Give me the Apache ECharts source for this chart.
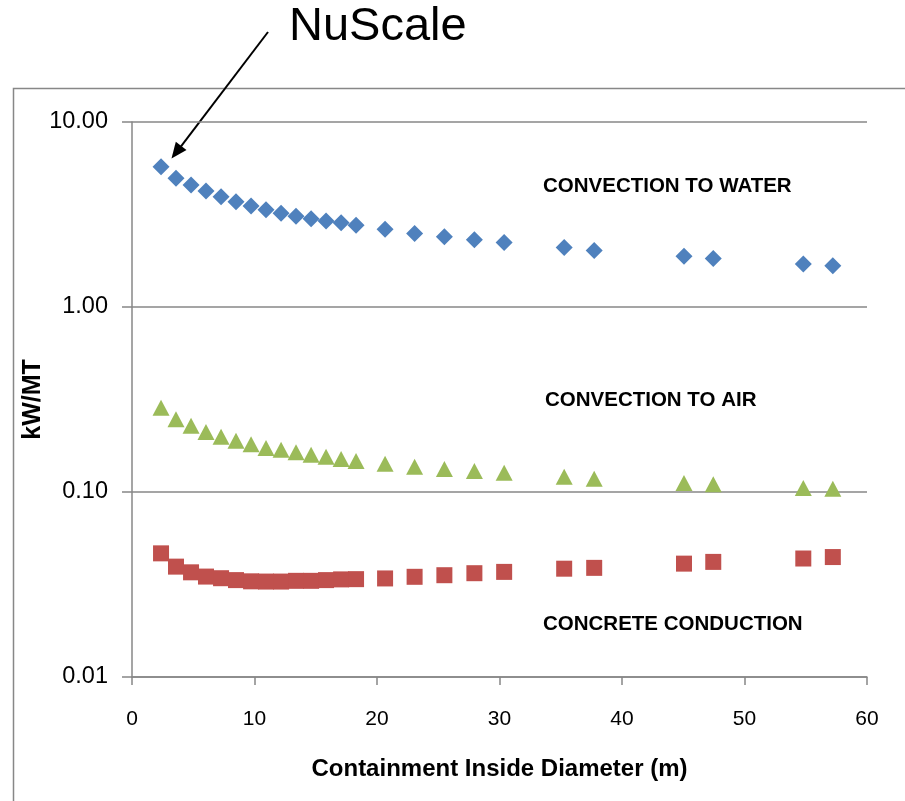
<!DOCTYPE html>
<html>
<head>
<meta charset="utf-8">
<script src="https://cdn.jsdelivr.net/npm/echarts@6/dist/echarts.min.js"></script>
<style>
html,body{margin:0;padding:0;background:#fff;}
#chart{width:905px;height:801px;}
</style>
</head>
<body>
<div id="chart"></div>
<script>
// Containment inside diameter (m)
const diameters = [2.37, 3.59, 4.82, 6.04, 7.27, 8.49, 9.72, 10.94, 12.17, 13.39, 14.62, 15.84, 17.07, 18.29, 20.66, 23.07, 25.50, 27.95, 30.38, 35.28, 37.73, 45.06, 47.45, 54.80, 57.21];
// kW/MT
const convectionToWater = [5.73, 4.96, 4.56, 4.24, 3.95, 3.71, 3.52, 3.35, 3.21, 3.09, 3.00, 2.92, 2.85, 2.77, 2.63, 2.50, 2.40, 2.31, 2.23, 2.10, 2.02, 1.88, 1.83, 1.71, 1.67];
const convectionToAir = [0.285, 0.247, 0.228, 0.211, 0.199, 0.189, 0.181, 0.173, 0.169, 0.164, 0.159, 0.155, 0.151, 0.147, 0.142, 0.137, 0.133, 0.130, 0.127, 0.121, 0.118, 0.112, 0.110, 0.105, 0.104];
const concreteConduction = [0.0466, 0.0395, 0.0368, 0.0349, 0.0342, 0.0334, 0.0329, 0.0328, 0.0328, 0.0331, 0.0331, 0.0334, 0.0337, 0.0338, 0.0341, 0.0348, 0.0355, 0.0364, 0.0370, 0.0385, 0.0389, 0.0410, 0.0419, 0.0437, 0.0445];
const xTicks = [0, 10, 20, 30, 40, 50, 60];
const yTicks = [0.01, 0.1, 1, 10];
const seriesNames = ['CONVECTION TO WATER', 'CONVECTION TO AIR', 'CONCRETE CONDUCTION'];
const xTitle = 'Containment Inside Diameter (m)';
const yTitle = 'kW/MT';
const annotation = 'NuScale';

const zip = (xs, ys) => xs.map((x, i) => [x, ys[i]]);
const gridColor = '#878787';

const chart = echarts.init(document.getElementById('chart'), null, {renderer: 'canvas'});
chart.setOption({
  animation: false,
  backgroundColor: '#ffffff',
  grid: {left: 132, right: 38, top: 122, bottom: 124, containLabel: false},
  xAxis: {
    type: 'value',
    min: xTicks[0], max: xTicks[xTicks.length - 1], interval: 10,
    name: xTitle, nameLocation: 'middle', nameGap: 80, nameMoveOverlap: false,
    nameTextStyle: {fontFamily: 'Liberation Sans', fontWeight: 'bold', fontSize: 24, color: '#000'},
    axisLine: {show: true, lineStyle: {color: gridColor, width: 1.5}},
    axisTick: {show: true, length: 8, lineStyle: {color: gridColor, width: 1.5}},
    axisLabel: {margin: 32, fontFamily: 'Liberation Sans', fontSize: 21, color: '#000'},
    splitLine: {show: false}
  },
  yAxis: {
    type: 'log', logBase: 10,
    min: yTicks[0], max: yTicks[yTicks.length - 1],
    name: yTitle, nameLocation: 'middle', nameGap: 86, nameRotate: 90, nameMoveOverlap: false,
    nameTextStyle: {fontFamily: 'Liberation Sans', fontWeight: 'bold', fontSize: 25, color: '#000'},
    axisLine: {show: true, lineStyle: {color: gridColor, width: 1.5}},
    axisTick: {show: true, length: 10, lineStyle: {color: gridColor, width: 1.5}},
    axisLabel: {margin: 24, fontFamily: 'Liberation Sans', fontSize: 23.5, color: '#000',
      formatter: v => Number(v).toFixed(2)},
    splitLine: {show: true, lineStyle: {color: gridColor, width: 1.5}}
  },
  series: [
    {name: seriesNames[0], type: 'scatter', symbol: 'diamond', symbolSize: 17,
     itemStyle: {color: '#4F81BD', opacity: 1}, data: zip(diameters, convectionToWater)},
    {name: seriesNames[1], type: 'scatter', symbol: 'triangle', symbolSize: [17, 16],
     itemStyle: {color: '#9BBB59', opacity: 1}, data: zip(diameters, convectionToAir)},
    {name: seriesNames[2], type: 'scatter', symbol: 'rect', symbolSize: 16,
     itemStyle: {color: '#C0504D', opacity: 1}, data: zip(diameters, concreteConduction)}
  ],
  graphic: [
    {type: 'rect', shape: {x: 13.5, y: 88.5, width: 1000, height: 800}, silent: true, z: -10,
     style: {fill: null, stroke: gridColor, lineWidth: 1.5}},
    {type: 'text', x: 289, y: 27, style: {text: annotation, font: '47px "Liberation Sans"', fill: '#000', textAlign: 'left', textVerticalAlign: 'middle'}},
    {type: 'line', shape: {x1: 268, y1: 32, x2: 181, y2: 146.3}, style: {stroke: '#000', lineWidth: 2}},
    {type: 'polygon', shape: {points: [[171.5, 158.5], [186.5, 150], [175.8, 141.8]]}, style: {fill: '#000'}},
    {type: 'text', x: 543, y: 186, style: {text: seriesNames[0], font: 'bold 20.5px "Liberation Sans"', fill: '#000', textAlign: 'left', textVerticalAlign: 'middle'}},
    {type: 'text', x: 545, y: 400, style: {text: seriesNames[1], font: 'bold 20.5px "Liberation Sans"', fill: '#000', textAlign: 'left', textVerticalAlign: 'middle'}},
    {type: 'text', x: 543, y: 624, style: {text: seriesNames[2], font: 'bold 20.5px "Liberation Sans"', fill: '#000', textAlign: 'left', textVerticalAlign: 'middle'}}
  ]
});
</script>
</body>
</html>
